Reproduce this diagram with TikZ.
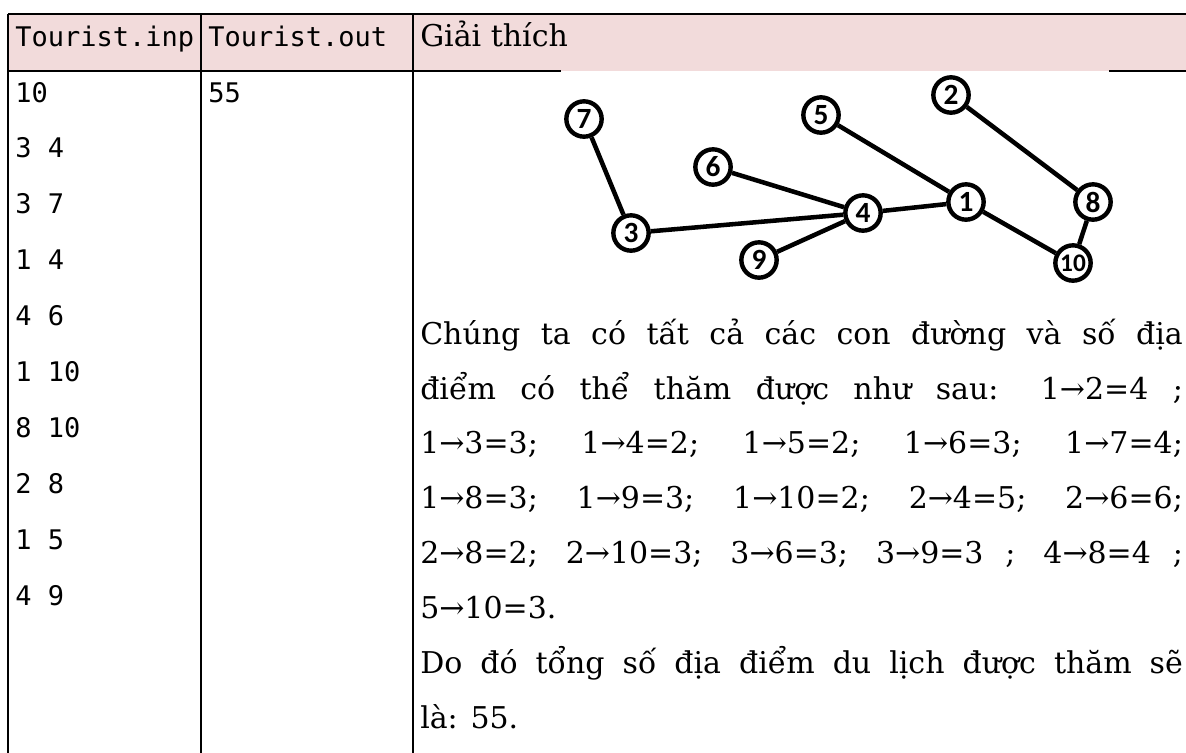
\documentclass[tikz,border=0pt]{standalone}
\usepackage{fontspec}
\setmainfont{DejaVu Serif}
\newfontfamily\monofont{DejaVu Sans Mono}
\newfontfamily\nodefont{Carlito}
\definecolor{hdr}{HTML}{F2DBDB}
\begin{document}
\begin{tikzpicture}[x=0.75pt,y=-0.75pt,
  rule/.style={line width=1.5pt},
  mono/.style={anchor=base west, font=\monofont\fontsize{20.25}{24}\selectfont, inner sep=0},
  body/.style={anchor=base west, font=\fontsize{22.5}{24}\selectfont, inner sep=0},
  vtx/.style={circle, draw, line width=3.3pt, minimum size=26.5pt, inner sep=0,
    font=\nodefont\bfseries\fontsize{22}{22}\selectfont, fill=white},
  gedge/.style={line width=3.4pt}]
\useasboundingbox (0,0) rectangle (1186,753);
% header
\fill[hdr] (8,14) rectangle (1186,71);
\draw[rule] (8,14) -- (1186,14);
\draw[rule] (8,71) -- (561,71);
\draw[rule] (1109,71) -- (1186,71);
\draw[rule] (8,14) -- (8,753);
\draw[rule] (201,14) -- (201,753);
\draw[rule] (413,14) -- (413,753);
\node[mono] (h1) at (15,46) {Tourist.inp};
\node[mono] (h2) at (208,46) {Tourist.out};
\node[body] (h3) at (420,46) {Giải thích};
% input column
\foreach \t [count=\i from 0] in {10,3 4,3 7,1 4,4 6,1 10,8 10,2 8,1 5,4 9}
  \node[mono] (in\i) at (15,{102+55.9*\i}) {\t};
\node[mono] (out0) at (208,102) {55};
% graph
\node[vtx] (n7) at (584,119) {7};
\node[vtx] (n5) at (821,115) {5};
\node[vtx] (n2) at (951,95) {2};
\node[vtx] (n6) at (713,167) {6};
\node[vtx] (n4) at (863,213) {4};
\node[vtx] (n1) at (966,202) {1};
\node[vtx] (n8) at (1093,202) {8};
\node[vtx] (n3) at (631,233) {3};
\node[vtx] (n9) at (759,260) {9};
\node[vtx,font=\nodefont\bfseries\fontsize{19}{19}\selectfont] (n10) at (1073,263) {10};
\draw[gedge] (n7) -- (n3);
\draw[gedge] (n3) -- (n4);
\draw[gedge] (n6) -- (n4);
\draw[gedge] (n9) -- (n4);
\draw[gedge] (n4) -- (n1);
\draw[gedge] (n5) -- (n1);
\draw[gedge] (n1) -- (n10);
\draw[gedge] (n2) -- (n8);
\draw[gedge] (n8) -- (n10);
% explanation
\node[body] (t1) at (420,344) {\makebox[572pt][s]{Chúng ta có tất cả các con đường và số địa}};
\node[body] (t2) at (420,399) {\makebox[572pt][s]{điểm có thể thăm được như sau: 1→2=4 ;}};
\node[body] (t3) at (420,453) {\makebox[572pt][s]{1→3=3; 1→4=2; 1→5=2; 1→6=3; 1→7=4;}};
\node[body] (t4) at (420,508) {\makebox[572pt][s]{1→8=3; 1→9=3; 1→10=2; 2→4=5; 2→6=6;}};
\node[body] (t5) at (420,563) {\makebox[572pt][s]{2→8=2; 2→10=3; 3→6=3; 3→9=3 ; 4→8=4 ;}};
\node[body] (t6) at (420,618) {5→10=3.};
\node[body] (t7) at (420,673) {\makebox[572pt][s]{Do đó tổng số địa điểm du lịch được thăm sẽ}};
\node[body] (t8) at (420,728) {là: 55.};
\end{tikzpicture}
\end{document}
